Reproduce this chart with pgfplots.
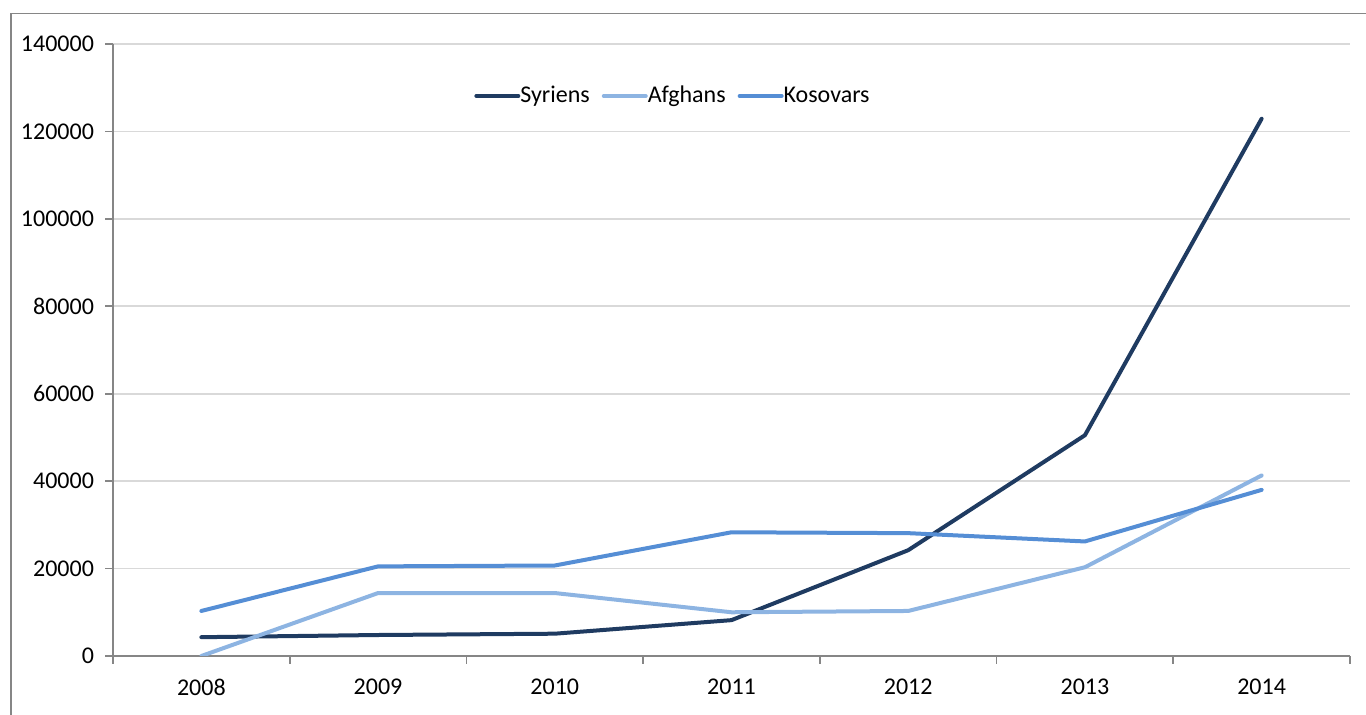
\documentclass[border=0pt]{standalone}
\usepackage{pgfplots}
\pgfplotsset{compat=1.18}
\usepackage{fontspec}
\setmainfont{Carlito}
\definecolor{syr}{HTML}{1F3B61}
\definecolor{afg}{HTML}{8DB4E2}
\definecolor{kos}{HTML}{558ED5}
\definecolor{gridc}{HTML}{D9D9D9}
\definecolor{axc}{HTML}{868686}
\begin{document}
\begin{tikzpicture}[x=1pt,y=1pt]
\path[use as bounding box] (0,0) rectangle (683,357.5);
\draw[axc, line width=0.8pt] (5.5,-5) -- (5.5,350.7) -- (690,350.7);
\begin{axis}[
  at={(56.5pt,29.5pt)}, anchor=south west,
  width=618.5pt, height=306pt, scale only axis,
  xmin=0, xmax=7, ymin=0, ymax=140000,
  axis x line*=bottom, axis y line*=left,
  axis line style={axc, line width=0.8pt},
  xtick={0,1,...,7}, xticklabels={},
  extra x ticks={0.5,1.5,...,6.5},
  extra x tick labels={2008,2009,2010,2011,2012,2013,2014},
  extra x tick style={grid=none, major tick length=0pt},
  x tick label style={yshift=-8pt},
  ytick={0,20000,...,140000},
  ymajorgrids, major grid style={gridc, line width=0.8pt},
  scaled y ticks=false,
  yticklabel style={/pgf/number format/fixed, /pgf/number format/1000 sep={}, xshift=-2pt},
  /pgf/number format/assume math mode=true,
  tick align=outside, major tick length=4pt,
  tick style={axc, line width=0.8pt},
  every tick label/.append style={font=\fontsize{12}{14}\selectfont, text=black},
  legend style={at={(0.4535,0.915)}, anchor=center, draw=none, fill=none,
    legend columns=3, font=\fontsize{12}{14}\selectfont,
    /tikz/every even column/.append style={column sep=4pt},
    /tikz/every odd column/.append style={column sep=-2pt}},
  legend image code/.code={\draw[#1, line width=2pt] (0pt,0pt) -- (21pt,0pt);},
  every axis plot/.append style={line width=2pt, line join=round, line cap=round},
]
\addplot[syr, mark=none] coordinates {(0.5,4300) (1.5,4800) (2.5,5100) (3.5,8200) (4.5,24200) (5.5,50500) (6.5,122900)};
\addlegendentry{Syriens}
\addplot[afg, mark=none] coordinates {(0.5,0) (1.5,14400) (2.5,14400) (3.5,10000) (4.5,10300) (5.5,20300) (6.5,41300)};
\addlegendentry{Afghans}
\addplot[kos, mark=none] coordinates {(0.5,10300) (1.5,20500) (2.5,20700) (3.5,28300) (4.5,28100) (5.5,26200) (6.5,38000)};
\addlegendentry{Kosovars}
\end{axis}
\end{tikzpicture}
\end{document}
